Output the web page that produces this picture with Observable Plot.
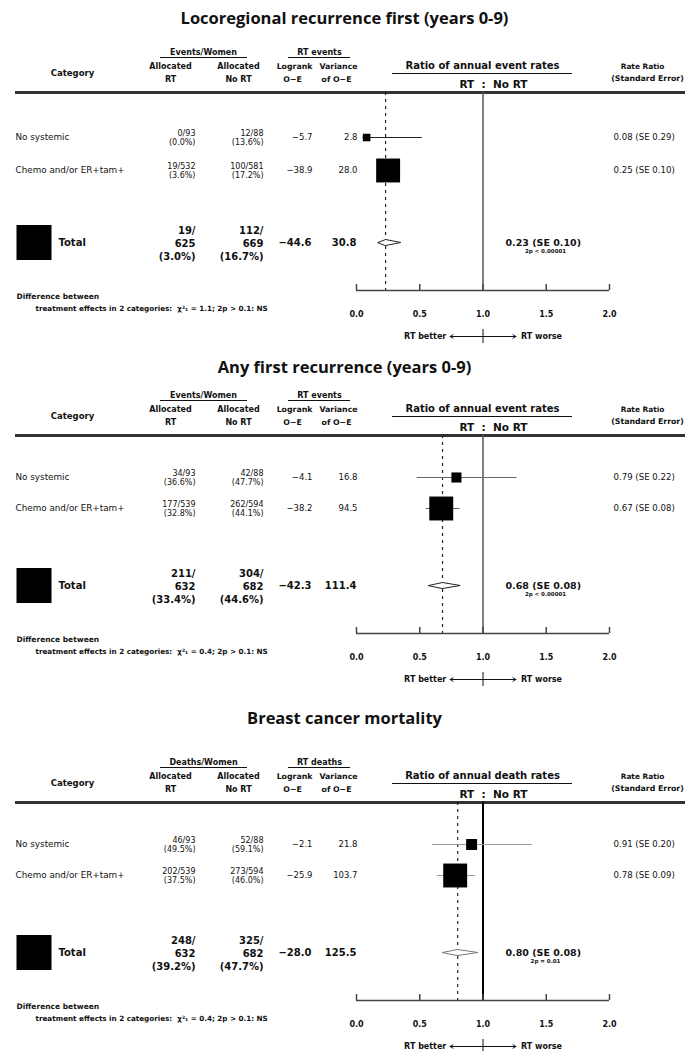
<!DOCTYPE html>
<html><head><meta charset="utf-8">
<script src="https://cdn.jsdelivr.net/npm/d3@7"></script>
<script src="https://cdn.jsdelivr.net/npm/@observablehq/plot@0.6"></script>
<style>
body{margin:0;background:#fff;}
#wrap{position:relative;width:689px;height:1051px;overflow:hidden;background:#fff;}
.title{position:absolute;left:0;width:689px;text-align:center;font-family:"Open Sans",sans-serif;font-weight:700;font-size:16.5px;line-height:20px;color:#111;}
.panel{position:absolute;left:0;}
</style></head><body><div id="wrap"></div>
<script>
// ---------- DATA ----------
const panelTitles = ["Locoregional recurrence first (years 0-9)", "Any first recurrence (years 0-9)", "Breast cancer mortality"];
const countHeaders = ["Events/Women", "Events/Women", "Deaths/Women"];
const logrankHeaders = ["RT events", "RT events", "RT deaths"];
const ratioHeaders = ["Ratio of annual event rates", "Ratio of annual event rates", "Ratio of annual death rates"];
const categories = ["No systemic", "Chemo and/or ER+tam+"];
const rtEvents = [[0, 19], [34, 177], [46, 202]];
const rtWomen = [[93, 532], [93, 539], [93, 539]];
const noRtEvents = [[12, 100], [42, 262], [52, 273]];
const noRtWomen = [[88, 581], [88, 594], [88, 594]];
const oMinusE = [[-5.7, -38.9], [-4.1, -38.2], [-2.1, -25.9]];
const variance = [[2.8, 28.0], [16.8, 94.5], [21.8, 103.7]];
const rateRatio = [[0.08, 0.25], [0.79, 0.67], [0.91, 0.78]];
const rateSE = [[0.29, 0.10], [0.22, 0.08], [0.20, 0.09]];
const ciLow = [[0.05, 0.17], [0.48, 0.55], [0.60, 0.64]];
const ciHigh = [[0.52, 0.34], [1.27, 0.82], [1.39, 0.94]];
const totalRtEvents = [19, 211, 248];
const totalRtWomen = [625, 632, 632];
const totalNoRtEvents = [112, 304, 325];
const totalNoRtWomen = [669, 682, 682];
const totalOE = [-44.6, -42.3, -28.0];
const totalVar = [30.8, 111.4, 125.5];
const totalRR = [0.23, 0.68, 0.80];
const totalSE = [0.10, 0.08, 0.08];
const totalLow = [0.17, 0.57, 0.68];
const totalHigh = [0.35, 0.82, 0.96];
const totalP = ["2p < 0.00001", "2p < 0.00001", "2p = 0.01"];
const hetChi = [1.1, 0.4, 0.4];
const hetP = ["2p > 0.1: NS", "2p > 0.1: NS", "2p > 0.1: NS"];
const xTicks = [0, 0.5, 1, 1.5, 2];

// ---------- LAYOUT ----------
const W = 689, H = 312;
const titleY = [18, 367, 718];
const headerY = [52, 395, 762];
const rowsY = [[105, 138], [102, 133], [102, 133]];
const LY = {head1: 20, uline: 25, head2: 34, cat: 41, head3: 47, ratioLine: 41, rtno: 52, rule: 60,
  total: 210, axis: 258, tick: 282, arrow: 304, diff1: 264, diff2: 276};
const FONT = "DejaVu Sans";
const ink = "#111";
const minus = s => s.replace("-", "\u2212");
const pct = (a, b) => (100 * a / b).toFixed(1) + "%";

const T = (data, px, opts) => Plot.text(data, {frameAnchor: "left", dx: px, fill: ink, fontFamily: FONT, ...opts});

function makePanel(p) {
  const rows = categories.map((cat, i) => ({
    cat, y: rowsY[p][i],
    rt: `${rtEvents[p][i]}/${rtWomen[p][i]}\n(${pct(rtEvents[p][i], rtWomen[p][i])})`,
    nr: `${noRtEvents[p][i]}/${noRtWomen[p][i]}\n(${pct(noRtEvents[p][i], noRtWomen[p][i])})`,
    oe: minus(oMinusE[p][i].toFixed(1)),
    v: variance[p][i].toFixed(1), vv: variance[p][i],
    rr: rateRatio[p][i], lo: ciLow[p][i], hi: ciHigh[p][i],
    rrText: `${rateRatio[p][i].toFixed(2)} (SE ${rateSE[p][i].toFixed(2)})`
  }));
  const tot = {
    y: LY.total,
    rt: `${totalRtEvents[p]}/\n${totalRtWomen[p]}\n(${pct(totalRtEvents[p], totalRtWomen[p])})`,
    nr: `${totalNoRtEvents[p]}/\n${totalNoRtWomen[p]}\n(${pct(totalNoRtEvents[p], totalNoRtWomen[p])})`,
    oe: minus(totalOE[p].toFixed(1)), v: totalVar[p].toFixed(1),
    rrText: `${totalRR[p].toFixed(2)} (SE ${totalSE[p].toFixed(2)})`, pText: totalP[p]
  };
  const diamond = [
    {x: totalLow[p], y: LY.total}, {x: totalRR[p], y: LY.total - 3},
    {x: totalHigh[p], y: LY.total}, {x: totalRR[p], y: LY.total + 3}
  ];
  const headers = [
    {t: countHeaders[p], px: 203, y: LY.head1, a: "middle", s: 8},
    {t: logrankHeaders[p], px: 319, y: LY.head1, a: "middle", s: 8},
    {t: "Category", px: 72, y: LY.cat, a: "middle", s: 8.5},
    {t: "Allocated", px: 170, y: LY.head2, a: "middle", s: 8},
    {t: "RT", px: 170, y: LY.head3, a: "middle", s: 8},
    {t: "Allocated", px: 238, y: LY.head2, a: "middle", s: 8},
    {t: "No RT", px: 238, y: LY.head3, a: "middle", s: 8},
    {t: "Logrank", px: 294, y: LY.head2, a: "middle", s: 7.8},
    {t: "O\u2212E", px: 292, y: LY.head3, a: "middle", s: 7.8},
    {t: "Variance", px: 338, y: LY.head2, a: "middle", s: 7.8},
    {t: "of O\u2212E", px: 336, y: LY.head3, a: "middle", s: 7.8},
    {t: ratioHeaders[p], px: 482, y: LY.head2 - 1, a: "middle", s: 10},
    {t: "RT\u00a0\u00a0:\u00a0\u00a0No RT", px: 493, y: LY.rtno, a: "middle", s: 10.5},
    {t: "Rate Ratio", px: 642, y: LY.head2, a: "middle", s: 7.4},
    {t: "(Standard Error)", px: 647, y: LY.head2 + 12, a: "middle", s: 7.8}
  ];
  const lineCol = p === 0 ? "#222" : (p === 1 ? "#666" : "#999");
  const oneCol = p === 2 ? "#000" : "#555";
  const oneW = p === 2 ? 2 : 1.5;
  const marks = [
    // header rules
    Plot.ruleY([LY.rule], {y: d => d, insetLeft: 15, insetRight: 4, stroke: "#333", strokeWidth: 3}),
    Plot.ruleY([LY.uline], {y: d => d, insetLeft: 160, insetRight: W - 247, stroke: ink, strokeWidth: 1}),
    Plot.ruleY([LY.uline], {y: d => d, insetLeft: 288, insetRight: W - 350, stroke: ink, strokeWidth: 1}),
    Plot.ruleY([LY.ratioLine], {y: d => d, insetLeft: 392, insetRight: W - 572, stroke: ink, strokeWidth: 1}),
    ...headers.map(h => T([h], h.px, {y: "y", text: "t", textAnchor: h.a, fontSize: h.s, fontWeight: "bold"})),
    // reference lines
    Plot.ruleX([totalRR[p]], {x: d => d, y1: LY.rule, y2: LY.axis, stroke: "#222", strokeWidth: 1.2, strokeDasharray: "3,4"}),
    Plot.ruleX([1], {x: d => d, y1: LY.rule, y2: LY.axis, stroke: oneCol, strokeWidth: oneW}),
    // axis
    Plot.ruleY([LY.axis], {y: d => d, x1: 0, x2: 2, stroke: "#444", strokeWidth: 1.5}),
    Plot.ruleX(xTicks, {x: d => d, y1: LY.axis - 6, y2: LY.axis, stroke: "#444", strokeWidth: 1.5}),
    Plot.text(xTicks, {x: d => d, y: LY.tick, text: d => d.toFixed(1), fontSize: 8, fontWeight: "bold", fill: ink, fontFamily: FONT}),
    Plot.arrow([{a: 1, b: 0.74}, {a: 1, b: 1.26}], {x1: "a", x2: "b", y1: LY.arrow, y2: LY.arrow, headLength: 5, stroke: ink, strokeWidth: 1}),
    Plot.ruleX([1], {x: d => d, y1: LY.arrow - 7, y2: LY.arrow + 7, stroke: ink, strokeWidth: 1}),
    Plot.text(["RT better"], {x: 0.71, y: LY.arrow, text: d => d, textAnchor: "end", fontSize: 8, fontWeight: "bold", fill: ink, fontFamily: FONT}),
    Plot.text(["RT worse"], {x: 1.30, y: LY.arrow, text: d => d, textAnchor: "start", fontSize: 8, fontWeight: "bold", fill: ink, fontFamily: FONT}),
    // category rows
    T(rows, 15, {y: "y", text: "cat", textAnchor: "start", fontSize: 8.8}),
    T(rows, 195, {y: "y", text: "rt", textAnchor: "end", fontSize: 8, lineHeight: 1.15}),
    T(rows, 263, {y: "y", text: "nr", textAnchor: "end", fontSize: 8, lineHeight: 1.15}),
    T(rows, 312, {y: "y", text: "oe", textAnchor: "end", fontSize: 8.5}),
    T(rows, 357, {y: "y", text: "v", textAnchor: "end", fontSize: 8.5}),
    T(rows, 613, {y: "y", text: "rrText", textAnchor: "start", fontSize: 8.6}),
    Plot.ruleY(rows, {y: "y", x1: "lo", x2: "hi", stroke: lineCol, strokeWidth: 1.2}),
    Plot.dot(rows, {x: "rr", y: "y", r: "vv", symbol: "square", fill: "#000", stroke: null}),
    // total row
    Plot.dot([tot], {frameAnchor: "left", dx: 33.5, y: "y", r: 19.75, symbol: "square", fill: "#000"}),
    T([tot], 58, {y: "y", text: () => "Total", textAnchor: "start", fontSize: 10, fontWeight: "bold"}),
    T([tot], 195, {y: "y", text: "rt", textAnchor: "end", fontSize: 10, fontWeight: "bold", lineHeight: 1.3}),
    T([tot], 263, {y: "y", text: "nr", textAnchor: "end", fontSize: 10, fontWeight: "bold", lineHeight: 1.3}),
    T([tot], 311, {y: "y", text: "oe", textAnchor: "end", fontSize: 10, fontWeight: "bold"}),
    T([tot], 356, {y: "y", text: "v", textAnchor: "end", fontSize: 10, fontWeight: "bold"}),
    Plot.line(diamond, {x: "x", y: "y", curve: "linear-closed", fill: "white", stroke: p === 2 ? "#777" : "#222", strokeWidth: 1}),
    T([tot], 505, {y: "y", text: "rrText", textAnchor: "start", fontSize: 9.5, fontWeight: "bold"}),
    T([tot], 545, {y: LY.total + 9, text: "pText", textAnchor: "middle", fontSize: 5.5, fontWeight: "bold"}),
    // heterogeneity
    T(["Difference between"], 16, {y: LY.diff1, text: d => d, textAnchor: "start", fontSize: 7.5, fontWeight: "bold"}),
    T([`treatment effects in 2 categories:  \u03c7\u00b2\u2081 = ${hetChi[p].toFixed(1)}; ${hetP[p]}`], 35,
      {y: LY.diff2, text: d => d, textAnchor: "start", fontSize: 7.2, fontWeight: "bold"})
  ];
  return Plot.plot({
    width: W, height: H, margin: 0,
    x: {domain: [0, 2], range: [356, 609], axis: null},
    y: {domain: [0, H], range: [0, H], axis: null},
    r: {type: "sqrt", domain: [0, d3.max(variance[p])], range: [0, 13.5]},
    style: {fontFamily: FONT, background: "transparent", overflow: "visible"},
    marks
  });
}

const wrap = document.getElementById("wrap");
panelTitles.forEach((t, p) => {
  const svg = makePanel(p);
  svg.classList.add("panel");
  svg.style.top = (headerY[p] - LY.head1) + "px";
  wrap.appendChild(svg);
  const div = document.createElement("div");
  div.className = "title";
  div.style.top = (titleY[p] - 10) + "px";
  div.textContent = t;
  wrap.appendChild(div);
});
</script></body></html>
